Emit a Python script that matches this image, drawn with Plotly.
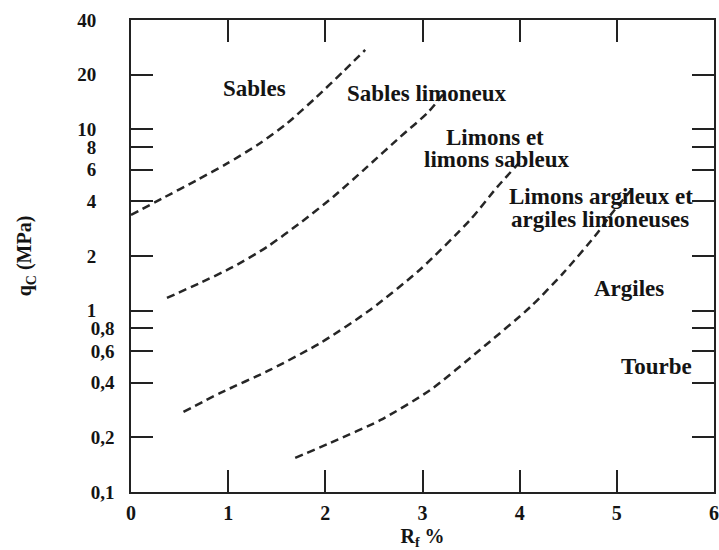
import plotly.graph_objects as go

# Boundary curves (Rf %, qc MPa)
c1_x = [0.0, 0.33, 0.68, 0.99, 1.30, 1.61, 1.91, 2.18, 2.41]
c1_y = [3.37, 4.18, 5.25, 6.48, 8.19, 10.83, 15.07, 20.7, 27.4]

c2_x = [0.37, 0.71, 1.05, 1.40, 1.74, 2.08, 2.43, 2.77, 3.05, 3.24]
c2_y = [1.175, 1.421, 1.741, 2.245, 3.043, 4.235, 6.20, 9.07, 12.3, 16.26]

c3_x = [0.54, 0.92, 1.43, 1.95, 2.46, 2.97, 3.49, 3.77, 4.05]
c3_y = [0.2764, 0.3518, 0.471, 0.6636, 1.009, 1.676, 3.162, 4.81, 7.04]

c4_x = [1.69, 2.05, 2.57, 3.08, 3.59, 4.11, 4.45, 4.80, 4.96, 5.15]
c4_y = [0.1542, 0.1865, 0.2496, 0.3653, 0.6072, 1.048, 1.614, 2.68, 3.50, 4.63]

# Axis ticks
x_ticks = [0, 1, 2, 3, 4, 5, 6]
y_tickvals = [0.1, 0.2, 0.4, 0.6, 0.8, 1, 2, 4, 6, 8, 10, 20, 40]
y_ticklabels = ["0,1", "0,2", "0,4", "0,6", "0,8", "1", "2", "4", "6", "8", "10", "20", "40"]

# Zone labels
zone_labels = ["Sables", "Sables limoneux", "Limons et", "limons sableux",
               "Limons argileux et", "argiles limoneuses", "Argiles", "Tourbe"]
zone_x = [0.2118, 0.5077, 0.6244, 0.6278, 0.8062, 0.8045, 0.8542, 0.9022]
zone_y = [0.8549, 0.8453, 0.7521, 0.7055, 0.6271, 0.5763, 0.4322, 0.2669]

FONT = "Liberation Serif, Times New Roman, serif"
INK = "#141414"

fig = go.Figure()
for xs, ys in [(c1_x, c1_y), (c2_x, c2_y), (c3_x, c3_y), (c4_x, c4_y)]:
    fig.add_trace(go.Scatter(
        x=xs, y=ys, mode="lines",
        line=dict(color="#262626", width=2.5, dash="8px,5px", shape="spline", smoothing=0.7),
        showlegend=False, hoverinfo="skip"))

pad = "\u00a0\u00a0\u00a0\u2009"
y_ticktext = [("<b>%s</b>" % t) + ("" if "," in t else pad) for t in y_ticklabels]

for t, x, y in zip(zone_labels, zone_x, zone_y):
    fig.add_annotation(text="<b>%s</b>" % t, x=x, y=y, xref="paper", yref="paper",
                       showarrow=False, xanchor="center", yanchor="middle",
                       font=dict(family=FONT, size=23, color=INK))

axis_common = dict(showline=True, linecolor="#222", linewidth=1.6, mirror="ticks",
                   ticks="inside", ticklen=22, tickwidth=1.5, tickcolor="#222",
                   showgrid=False, zeroline=False, automargin=False)

fig.update_xaxes(range=[0, 6], tickvals=x_ticks,
                 ticktext=["<b>%d</b>" % v for v in x_ticks],
                 tickfont=dict(family=FONT, size=20, color=INK),
                 ticklabelstandoff=2,
                 title=dict(text="<b>R<sub>f</sub> %</b>", font=dict(family=FONT, size=20, color=INK),
                            standoff=8),
                 **axis_common)
fig.update_yaxes(type="log", range=[-1, 1.6025], tickvals=y_tickvals, ticktext=y_ticktext,
                 tickfont=dict(family=FONT, size=19, color=INK),
                 ticklabelstandoff=11,
                 title=dict(text="<b>q<sub>C</sub> (MPa)</b>", font=dict(family=FONT, size=20, color=INK),
                            standoff=40),
                 **axis_common)

fig.update_layout(width=719, height=550, margin=dict(l=131, r=5, t=20, b=58),
                  paper_bgcolor="white", plot_bgcolor="white")
fig.write_html("out.html", config={"displayModeBar": False},
               post_script="document.body.style.margin='0';document.body.style.overflow='hidden';")
